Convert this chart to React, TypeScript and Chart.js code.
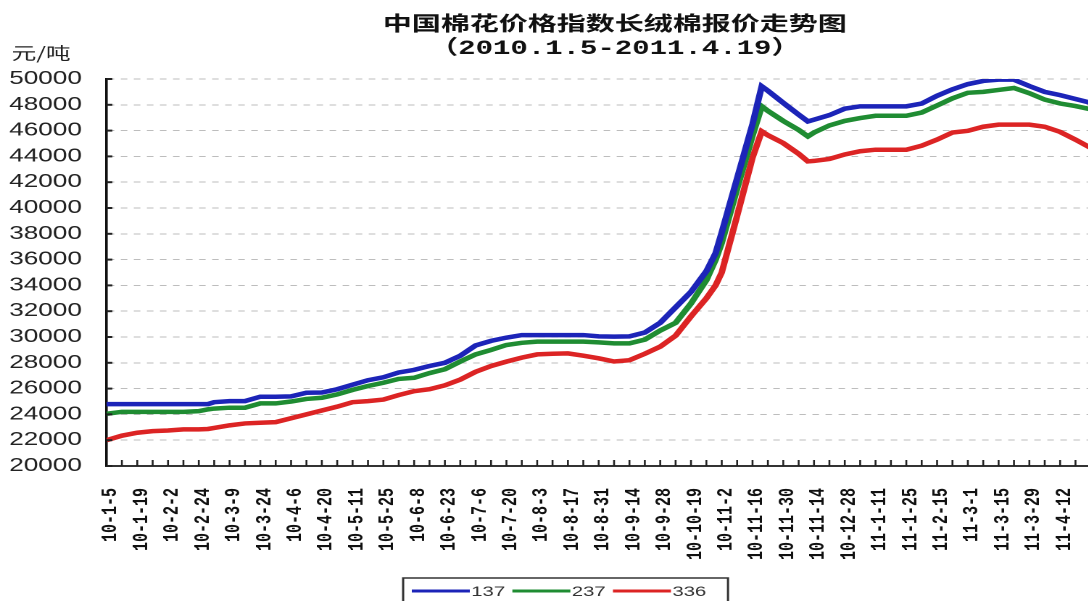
import React, { useEffect, useRef } from 'react';
import { Chart, registerables } from 'chart.js';

Chart.register(...registerables);

// The reference picture is stretched horizontally; the chart is drawn narrow and widened.
const STRETCH = 1.45;
const CANVAS_W = 888;
const CANVAS_H = 601;

const titleText = '中国棉花价格指数长绒棉报价走势图';
const subtitleText = '（2010.1.5-2011.4.19）';
const unitText = '元/吨';

// one label every 10 trading days
const dateLabels = [
  '10-1-5', '10-1-19', '10-2-2', '10-2-24', '10-3-9', '10-3-24', '10-4-6', '10-4-20',
  '10-5-11', '10-5-25', '10-6-8', '10-6-23', '10-7-6', '10-7-20', '10-8-3', '10-8-17',
  '10-8-31', '10-9-14', '10-9-28', '10-10-19', '10-11-2', '10-11-16', '10-11-30', '10-11-14',
  '10-12-28', '11-1-11', '11-1-25', '11-2-15', '11-3-1', '11-3-15', '11-3-29', '11-4-12',
];

// trading-day index of each sampled point
const dayIndex = [
  0, 5, 10, 15, 20, 25, 30, 33, 35, 40, 45, 50, 55, 60, 65, 70, 75, 80, 85, 90,
  95, 100, 105, 110, 115, 120, 125, 130, 135, 140, 145, 150, 155, 160, 165, 170, 175, 180, 185, 190,
  195, 198, 200, 205, 210, 213, 215, 220, 225, 228, 230, 235, 240, 245, 250, 255, 260, 265, 270, 275,
  280, 285, 290, 295, 300, 305, 310, 315, 320,
];

const s137 = [
  24800, 24800, 24800, 24800, 24800, 24800, 24800, 24800, 24950, 25030, 25030, 25370, 25370, 25400, 25680, 25700, 25950, 26300, 26650, 26880,
  27250, 27450, 27750, 28000, 28550, 29350, 29700, 29950, 30150, 30150, 30150, 30150, 30150, 30050, 30030, 30050, 30350, 31100, 32300, 33500,
  35100, 36500, 38100, 42300, 46500, 49430, 49090, 48150, 47240, 46710, 46850, 47200, 47700, 47880, 47880, 47880, 47880, 48100, 48700, 49200,
  49600, 49850, 49950, 49950, 49450, 49000, 48750, 48450, 48150,
];

const s237 = [
  24050, 24200, 24200, 24200, 24200, 24200, 24250, 24390, 24450, 24520, 24520, 24850, 24850, 25000, 25200, 25290, 25550, 25900, 26200, 26450,
  26750, 26840, 27200, 27500, 28100, 28650, 29000, 29380, 29550, 29640, 29640, 29640, 29640, 29580, 29510, 29510, 29800, 30500, 31100, 32600,
  34400, 35980, 37300, 41500, 45600, 47880, 47530, 46750, 46050, 45550, 45850, 46400, 46750, 46970, 47150, 47150, 47150, 47400, 47950, 48500,
  48930, 49000, 49150, 49300, 48900, 48400, 48100, 47900, 47650,
];

const s336 = [
  22000, 22350, 22580, 22700, 22750, 22840, 22840, 22870, 22950, 23150, 23300, 23350, 23400, 23700, 24000, 24300, 24600, 24950, 25030, 25150,
  25500, 25800, 25950, 26250, 26700, 27300, 27750, 28090, 28400, 28650, 28700, 28730, 28550, 28350, 28100, 28200, 28700, 29250, 30100, 31600,
  33000, 34000, 35000, 39400, 43900, 45940, 45640, 45030, 44200, 43610, 43650, 43800, 44150, 44400, 44520, 44520, 44520, 44830, 45300, 45850,
  45980, 46300, 46460, 46460, 46460, 46300, 45900, 45300, 44650,
];

const seriesNames = ['137', '237', '336'];
const seriesValues = [s137, s237, s336];
const seriesColors = ['#1c24b8', '#1f8c32', '#dc2424'];

const Y_MIN = 20000;
const Y_MAX = 50000;
const Y_STEP = 2000;
const X_MAX = 365.1;

const decorPlugin = {
  id: 'decor',
  afterDraw(chart: any) {
    const { ctx, chartArea } = chart;
    const xs = chart.scales.x;
    const ys = chart.scales.y;
    ctx.save();
    ctx.strokeStyle = '#222';
    ctx.lineWidth = 1.3;
    xs.ticks.forEach((t: any) => {
      const px = xs.getPixelForValue(t.value);
      if (t.value === 0 || px > chartArea.right) return;
      ctx.beginPath();
      ctx.moveTo(px, chartArea.bottom);
      ctx.lineTo(px, chartArea.bottom - 6);
      ctx.stroke();
    });
    ctx.lineWidth = 2;
    ys.ticks.forEach((t: any) => {
      const py = ys.getPixelForValue(t.value);
      ctx.beginPath();
      ctx.moveTo(chartArea.left, py);
      ctx.lineTo(chartArea.left + 4, py);
      ctx.stroke();
    });

    ctx.fillStyle = '#222';
    ctx.font = '17px "Noto Sans CJK SC"';
    ctx.textAlign = 'left';
    ctx.textBaseline = 'middle';
    ctx.fillText(unitText, 8, 53);

    // legend
    const boxLeft = 278;
    const boxTop = 578;
    const ly = 591;
    let lx = 284;
    ctx.font = '14px "Liberation Sans"';
    chart.data.datasets.forEach((ds: any) => {
      ctx.strokeStyle = ds.borderColor;
      ctx.lineWidth = 3;
      ctx.beginPath();
      ctx.moveTo(lx, ly);
      ctx.lineTo(lx + 40, ly);
      ctx.stroke();
      ctx.fillStyle = '#333';
      ctx.fillText(ds.label, lx + 41, ly + 1);
      lx += 41 + ctx.measureText(ds.label).width + 5;
    });
    ctx.strokeStyle = '#333';
    ctx.lineWidth = 1.5;
    ctx.strokeRect(boxLeft, boxTop, lx + 10 - boxLeft, 40);
    ctx.restore();
  },
};

export default function App() {
  const ref = useRef<HTMLCanvasElement | null>(null);

  useEffect(() => {
    if (!ref.current) return;
    const datasets = seriesNames.map((name, i) => ({
      label: name,
      data: dayIndex.map((d, j) => ({ x: d, y: seriesValues[i][j] })),
      borderColor: seriesColors[i],
      backgroundColor: seriesColors[i],
      borderWidth: 4.5,
      pointRadius: 0,
      tension: 0,
      fill: false,
    }));
    const axisLeft = 106.5 / STRETCH;
    const chart = new Chart(ref.current, {
      type: 'line',
      data: { datasets },
      plugins: [decorPlugin],
      options: {
        responsive: false,
        animation: false,
        devicePixelRatio: 2,
        layout: { padding: { left: 0, right: 40, top: 0, bottom: 0 } },
        plugins: {
          legend: { display: false },
          tooltip: { enabled: false },
          title: {
            display: true,
            text: titleText,
            color: '#111',
            font: { family: '"Noto Sans CJK SC"', size: 20, weight: 'bold', lineHeight: 1.2 },
            padding: { top: 11, bottom: 0 },
          },
          subtitle: {
            display: true,
            text: subtitleText,
            color: '#111',
            font: { family: '"Liberation Mono", "Noto Sans CJK SC"', size: 20, weight: 'bold', lineHeight: 1.2 },
            padding: { top: 2, bottom: 18 },
          },
        },
        scales: {
          x: {
            type: 'linear',
            min: 0,
            max: X_MAX,
            afterFit: (s: any) => { s.height = CANVAS_H - 466; },
            grid: { display: false, drawTicks: false },
            border: { display: true, color: '#333', width: 2 },
            ticks: {
              stepSize: 5,
              autoSkip: false,
              includeBounds: false,
              minRotation: 90,
              maxRotation: 90,
              padding: 22,
              labelOffset: 3,
              color: '#111',
              font: { family: '"Liberation Mono"', size: 15, weight: 'bold' },
              callback: (v: any) => {
                const n = Number(v);
                return n % 10 === 0 && dateLabels[n / 10] ? dateLabels[n / 10] : '';
              },
            },
          },
          y: {
            min: Y_MIN,
            max: Y_MAX,
            afterFit: (s: any) => { s.width = axisLeft; },
            grid: { color: '#bdbdbd', lineWidth: 1, drawTicks: false },
            border: { display: true, color: '#111', width: 1.8, dash: [4.5, 4.5] },
            ticks: {
              stepSize: Y_STEP,
              padding: 17,
              color: '#222',
              font: { family: '"Liberation Sans"', size: 18 },
              callback: (v: any) => String(v),
            },
          },
        },
      },
    } as any);
    return () => chart.destroy();
  }, []);

  return (
    <div style={{ position: 'fixed', left: 0, top: 0, width: 1088, height: 601, overflow: 'hidden', background: '#fff' }}>
      <div style={{ width: CANVAS_W, height: CANVAS_H, transform: `scaleX(${STRETCH})`, transformOrigin: '0 0' }}>
        <canvas ref={ref} width={CANVAS_W} height={CANVAS_H} style={{ width: CANVAS_W, height: CANVAS_H, display: 'block' }} />
      </div>
    </div>
  );
}
